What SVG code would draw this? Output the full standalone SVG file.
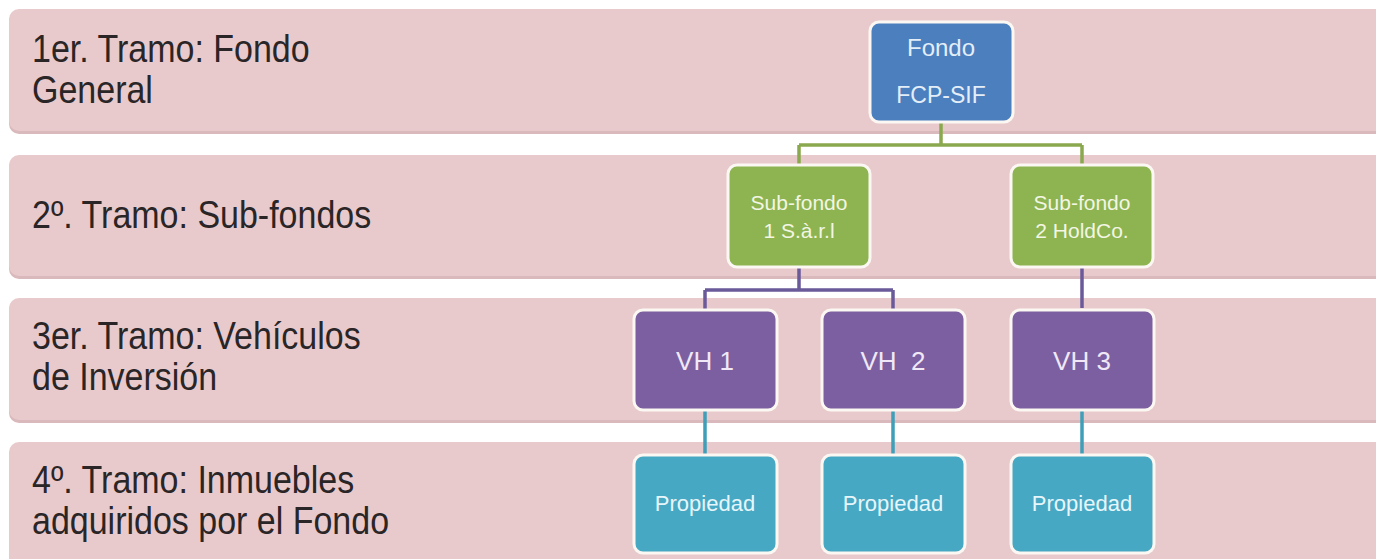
<svg xmlns="http://www.w3.org/2000/svg" width="1376" height="559" viewBox="0 0 1376 559">
<style>
.band{fill:#E8CACC;}
.bandsh{fill:#D9B9BB;}
.lbl{font-family:"Liberation Sans",Arial,sans-serif;font-size:34px;fill:#2A2526;}
.node{stroke:#FBF7F2;stroke-width:3;}
.blue{fill:#4B7FBE;}
.green{fill:#8DB450;}
.purple{fill:#7B5FA0;}
.teal{fill:#47A8C4;}
.nt{font-family:"Liberation Sans",Arial,sans-serif;text-anchor:middle;}
.c{fill:none;stroke-width:3.5;}
</style>
<rect width="1376" height="559" fill="#FFFFFF"/>
<g id="bands">
<rect class="bandsh" x="9" y="11" width="1380" height="123" rx="10"/>
<rect class="band" x="9" y="9" width="1380" height="122" rx="10"/>
<rect class="bandsh" x="9" y="157" width="1380" height="122" rx="10"/>
<rect class="band" x="9" y="155" width="1380" height="121" rx="10"/>
<rect class="bandsh" x="9" y="300" width="1380" height="123" rx="10"/>
<rect class="band" x="9" y="298" width="1380" height="122" rx="10"/>
<rect class="band" x="9" y="442" width="1380" height="130" rx="10"/>
</g>
<g id="labels">
<text class="lbl" transform="translate(32,62) scale(1,1.12)">1er. Tramo: Fondo</text>
<text class="lbl" transform="translate(32,103) scale(1,1.12)">General</text>
<text class="lbl" transform="translate(32,228) scale(1,1.12)">2º. Tramo: Sub-fondos</text>
<text class="lbl" transform="translate(32,349) scale(1,1.12)">3er. Tramo: Vehículos</text>
<text class="lbl" transform="translate(32,390) scale(1,1.12)">de Inversión</text>
<text class="lbl" transform="translate(32,493) scale(1,1.12)">4º. Tramo: Inmuebles</text>
<text class="lbl" transform="translate(32,534) scale(1,1.12)">adquiridos por el Fondo</text>
</g>
<g id="connectors">
<path class="c" stroke="#8AA84E" d="M941,122 V145 M799,145 H1082 M799,145 V165 M1082,145 V165"/>
<path class="c" stroke="#6A5A9A" d="M799,267 V290 M705,290 H893 M705,290 V310 M893,290 V310 M1082,267 V308"/>
<path class="c" stroke="#3F9FB8" d="M705,410 V455 M893,410 V455 M1082,410 V455"/>
</g>
<g id="fondo">
<rect class="node blue" x="870" y="22" width="143" height="100" rx="9"/>
<text class="nt" x="941" y="56" font-size="24" fill="#E4EEF9">Fondo</text>
<text class="nt" x="941" y="103" font-size="23" fill="#E4EEF9">FCP-SIF</text>
</g>
<g id="subfondo1">
<rect class="node green" x="728" y="165" width="142" height="102" rx="9"/>
<text class="nt" x="799" y="210" font-size="21" fill="#F3F6E4">Sub-fondo</text>
<text class="nt" x="799" y="238" font-size="21" fill="#F3F6E4">1 S.à.r.l</text>
</g>
<g id="subfondo2">
<rect class="node green" x="1011" y="165" width="142" height="102" rx="9"/>
<text class="nt" x="1082" y="210" font-size="21" fill="#F3F6E4">Sub-fondo</text>
<text class="nt" x="1082" y="238" font-size="21" fill="#F3F6E4">2 HoldCo.</text>
</g>
<g id="vh1">
<rect class="node purple" x="634" y="310" width="143" height="100" rx="9"/>
<text class="nt" x="705" y="370" font-size="26" fill="#F0E8F6">VH 1</text>
</g>
<g id="vh2">
<rect class="node purple" x="822" y="310" width="143" height="100" rx="9"/>
<text class="nt" x="893" y="370" font-size="26" fill="#F0E8F6" xml:space="preserve">VH  2</text>
</g>
<g id="vh3">
<rect class="node purple" x="1011" y="310" width="143" height="100" rx="9"/>
<text class="nt" x="1082" y="370" font-size="26" fill="#F0E8F6">VH 3</text>
</g>
<g id="prop1">
<rect class="node teal" x="634" y="455" width="143" height="98" rx="9"/>
<text class="nt" x="705" y="511" font-size="22" fill="#E6F6FA">Propiedad</text>
</g>
<g id="prop2">
<rect class="node teal" x="822" y="455" width="143" height="98" rx="9"/>
<text class="nt" x="893" y="511" font-size="22" fill="#E6F6FA">Propiedad</text>
</g>
<g id="prop3">
<rect class="node teal" x="1011" y="455" width="143" height="98" rx="9"/>
<text class="nt" x="1082" y="511" font-size="22" fill="#E6F6FA">Propiedad</text>
</g>
</svg>
